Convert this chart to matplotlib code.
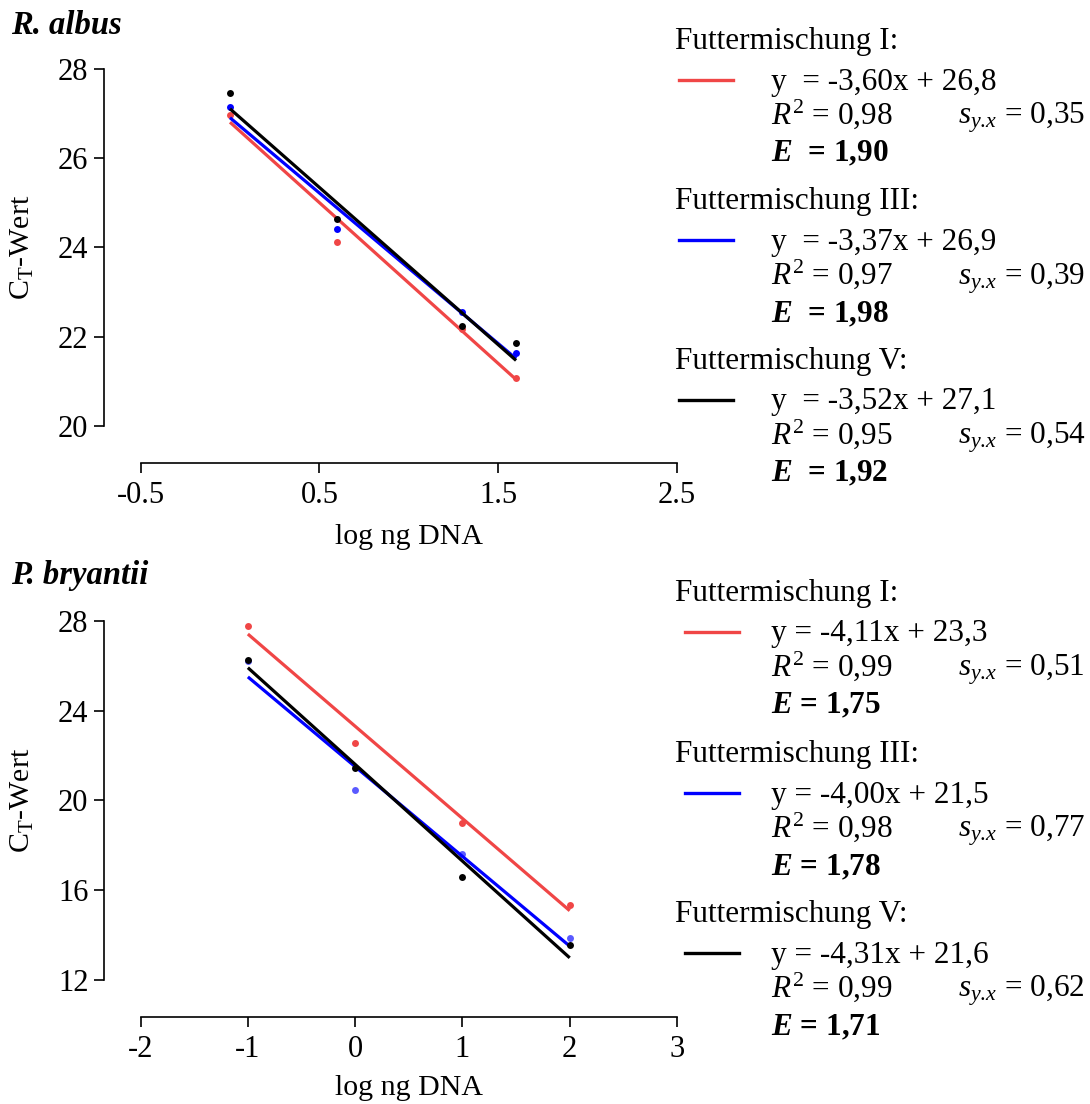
import matplotlib.pyplot as plt
from matplotlib.lines import Line2D

plt.rcParams['font.family'] = 'Liberation Serif'
plt.rcParams['mathtext.fontset'] = 'custom'
plt.rcParams['mathtext.rm'] = 'Liberation Serif'
plt.rcParams['mathtext.it'] = 'Liberation Serif:italic'
plt.rcParams['mathtext.bf'] = 'Liberation Serif:bold'
plt.rcParams['mathtext.bfit'] = 'Liberation Serif:italic:bold'

# R. albus
RA_X = [0.0, 0.6, 1.3, 1.6]
RA_CT_I = [26.96, 24.12, 22.18, 21.08]
RA_CT_III = [27.13, 24.40, 22.56, 21.64]
RA_CT_V = [27.45, 24.63, 22.23, 21.86]
RA_SLOPE = [-3.60, -3.37, -3.52]
RA_INTERCEPT = [26.8, 26.9, 27.1]
RA_R2 = ['0,98', '0,97', '0,95']
RA_SYX = ['0,35', '0,39', '0,54']
RA_E = ['1,90', '1,98', '1,92']

# P. bryantii
PB_X = [-1.0, 0.0, 1.0, 2.0]
PB_CT_I = [27.78, 22.57, 18.99, 15.35]
PB_CT_III = [26.22, 20.46, 17.61, 13.88]
PB_CT_V = [26.27, 21.45, 16.56, 13.56]
PB_SLOPE = [-4.11, -4.00, -4.31]
PB_INTERCEPT = [23.3, 21.5, 21.6]
PB_R2 = ['0,99', '0,98', '0,99']
PB_SYX = ['0,51', '0,77', '0,62']
PB_E = ['1,75', '1,78', '1,71']

MIXES = ['Futtermischung I:', 'Futtermischung III:', 'Futtermischung V:']
LINE_COLOURS = ['#f04646', '#0000ff', '#000000']

W, H = 1090, 1104
fig = plt.figure(figsize=(W / 100, H / 100), dpi=100)


def fx(x):
    return x / W


def fy(y):
    return 1 - y / H


def panel(top, bottom, x, series, slopes, intercepts, xticks, yticks, point_colours):
    ax = fig.add_axes([fx(140.6), fy(bottom), fx(677 - 140.6), (bottom - top) / H])
    for ys, m, b, lc, pc in zip(series, slopes, intercepts, LINE_COLOURS, point_colours):
        ax.plot(x, ys, 'o', ms=5, color=pc, mec='none', clip_on=False)
        ends = [min(x), max(x)]
        ax.plot(ends, [m * e + b for e in ends], color=lc, lw=2.3,
                solid_capstyle='butt', clip_on=False)
    ax.set_xlim(xticks[0], xticks[-1])
    ax.set_ylim(yticks[0], yticks[-1])
    ax.set_xticks(xticks)
    ax.set_yticks(yticks)
    ax.set_xticklabels([str(t) for t in xticks])
    for s in ['top', 'right']:
        ax.spines[s].set_visible(False)
    for s in ['left', 'bottom']:
        ax.spines[s].set_position(('outward', 26.6))
        ax.spines[s].set_linewidth(1.2)
    ax.tick_params(direction='out', length=7, width=1.2, labelsize=22, pad=4)
    ax.tick_params(axis='x', pad=6)
    ax.patch.set_visible(False)
    return ax


def legend_block(base_ys, sample_x, slopes, intercepts, r2s, syxs, effs, wide):
    gap = '  ' if wide else ' '
    for base, name, m, b, r2, syx, e, lc in zip(base_ys, MIXES, slopes, intercepts,
                                               r2s, syxs, effs, LINE_COLOURS):
        fig.text(fx(675), fy(base), name, fontsize=22.5, va='baseline')
        fig.add_artist(Line2D([fx(sample_x[0]), fx(sample_x[1])],
                              [fy(base + 31), fy(base + 31)],
                              color=lc, lw=2.4, transform=fig.transFigure))
        eq = f'y{gap}= {m:.2f}x + {b:.1f}'.replace('.', ',')
        fig.text(fx(771), fy(base + 41), eq, fontsize=22.5, va='baseline')
        fig.text(fx(771), fy(base + 75), r'$R^2$' + f' = {r2}', fontsize=22.5, va='baseline')
        fig.text(fx(958), fy(base + 75), r'$s_{y.\!x}$' + f' = {syx}', fontsize=22.5,
                 va='baseline')
        fig.text(fx(771), fy(base + 113), r'$\mathbfit{E}$' + f'{gap}= {e}', fontsize=22.5,
                 fontweight='bold', va='baseline')


# top panel
panel(68.6, 426, RA_X, [RA_CT_I, RA_CT_III, RA_CT_V], RA_SLOPE, RA_INTERCEPT,
      [-0.5, 0.5, 1.5, 2.5], [20, 22, 24, 26, 28], LINE_COLOURS)
fig.text(fx(11), fy(34), 'R. albus', fontsize=23.5, fontweight='bold', style='italic',
         va='baseline')
fig.text(fx(409), fy(544), 'log ng DNA', fontsize=21.5, ha='center', va='baseline')
fig.text(fx(22), fy(247), r'C$_\mathrm{T}$-Wert', fontsize=21.5, rotation=90,
         ha='center', va='center')
legend_block([48.5, 209, 368.5], (679, 733), RA_SLOPE, RA_INTERCEPT, RA_R2, RA_SYX, RA_E, True)

# bottom panel
panel(620.8, 979.8, PB_X, [PB_CT_I, PB_CT_III, PB_CT_V], PB_SLOPE, PB_INTERCEPT,
      [-2, -1, 0, 1, 2, 3], [12, 16, 20, 24, 28], ['#f04646', '#5a5aff', '#000000'])
fig.text(fx(11), fy(584), 'P. bryantii', fontsize=23.5, fontweight='bold', style='italic',
         va='baseline')
fig.text(fx(409), fy(1095), 'log ng DNA', fontsize=21.5, ha='center', va='baseline')
fig.text(fx(22), fy(800), r'C$_\mathrm{T}$-Wert', fontsize=21.5, rotation=90,
         ha='center', va='center')
legend_block([600.5, 762, 922], (685, 739), PB_SLOPE, PB_INTERCEPT, PB_R2, PB_SYX, PB_E, False)

fig.savefig('out.png', dpi=100)
